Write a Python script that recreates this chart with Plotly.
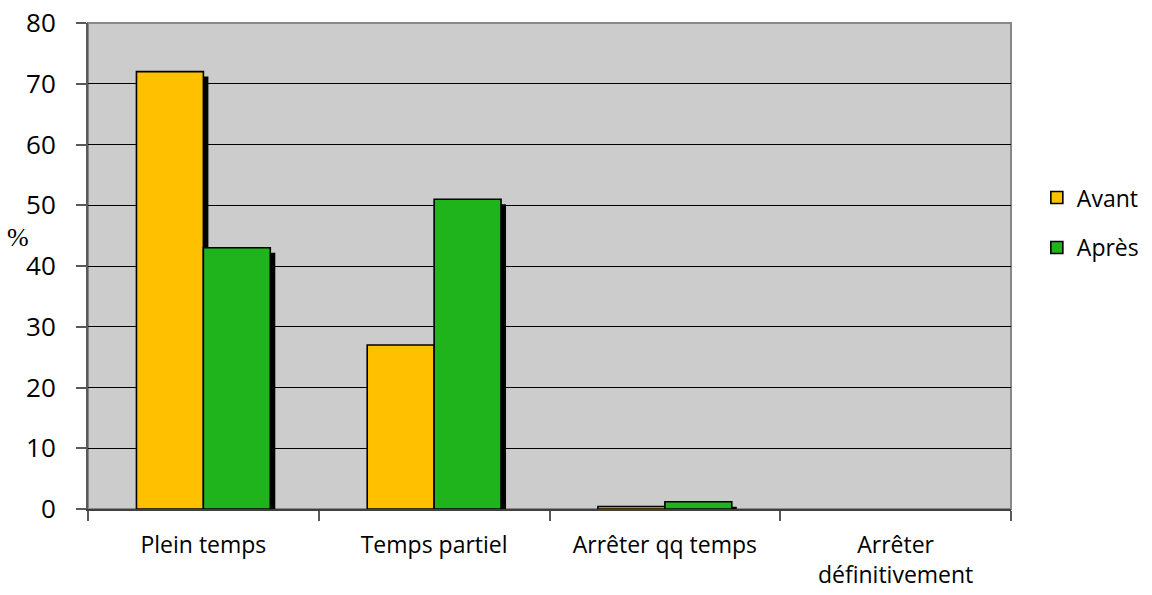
import plotly.graph_objects as go

# ---- data ----
categories = ["Plein temps", "Temps partiel", "Arrêter qq temps", "Arrêter<br>définitivement"]
avant = [72, 27, 0.4, 0]
apres = [43, 51, 1.2, 0]
series_names = ["Avant", "Après"]
y_ticks = [0, 10, 20, 30, 40, 50, 60, 70, 80]

# ---- style ----
W, H = 1152, 595
ML, MR, MT, MB = 88, 141, 23, 86
PW, PH = W - ML - MR, H - MT - MB
COL_AVANT = "#FFC000"
COL_APRES = "#20B41C"
FONT = "Open Sans"

# shadow offsets (pixels) converted into axis-range shifts
SH_PX = 5
x_shift = SH_PX * (len(categories)) / PW
y_shift = SH_PX * (y_ticks[-1] - y_ticks[0]) / PH


def drawn(vals):
    # zero-height bars are not drawn at all in the reference
    return [v if v else None for v in vals]


fig = go.Figure()

# shadow bars (drawn first, on base axes)
for vals in (avant, apres):
    fig.add_trace(go.Bar(
        x=categories, y=drawn(vals), xaxis="x", yaxis="y",
        marker=dict(color="black", line=dict(width=0)),
        showlegend=False, hoverinfo="skip",
    ))

# main bars (overlay axes, drawn on top)
for name, vals, col in ((series_names[0], avant, COL_AVANT), (series_names[1], apres, COL_APRES)):
    fig.add_trace(go.Bar(
        x=categories, y=drawn(vals), name=name, xaxis="x2", yaxis="y2",
        marker=dict(color=col, line=dict(color="black", width=1.6)),
        legendgroup=name,
    ))

fig.update_layout(
    width=W, height=H,
    margin=dict(l=ML, r=MR, t=MT, b=MB, pad=0, autoexpand=False),
    paper_bgcolor="white",
    plot_bgcolor="#CCCCCC",
    barmode="group",
    bargap=0.42,
    bargroupgap=0,
    font=dict(family=FONT, color="black"),
    xaxis=dict(
        type="category", range=[-0.5 - x_shift, len(categories) - 0.5 - x_shift],
        visible=False, showgrid=False, automargin=False,
    ),
    yaxis=dict(
        range=[y_ticks[0] + y_shift, y_ticks[-1] + y_shift],
        visible=False, showgrid=False, zeroline=False, automargin=False,
    ),
    xaxis2=dict(
        type="category", overlaying="x", side="bottom",
        range=[-0.5, len(categories) - 0.5],
        tickson="boundaries", ticks="outside", ticklen=10, tickwidth=1.5,
        tickcolor="#595959",
        showline=True, linecolor="#404040", linewidth=2,
        showgrid=False, automargin=False,
        tickfont=dict(family=FONT, size=23, color="black"),
        ticklabelstandoff=14,
    ),
    yaxis2=dict(
        overlaying="y", side="left",
        range=[y_ticks[0], y_ticks[-1]],
        tickvals=y_ticks, ticks="outside", ticklen=10, tickwidth=1.5,
        tickcolor="#595959",
        showline=True, linecolor="#595959", linewidth=2,
        showgrid=True, gridcolor="black", gridwidth=1,
        zeroline=False, automargin=False,
        tickfont=dict(family=FONT, size=26, color="black"),
        ticklabelstandoff=15,
    ),
    legend=dict(
        x=1.028, xanchor="left", y=0.685, yanchor="top",
        font=dict(family=FONT, size=23, color="black"),
        tracegroupgap=17, bgcolor="rgba(0,0,0,0)",
        itemclick=False,
    ),
    shapes=[dict(
        type="rect", xref="paper", yref="paper", x0=0, x1=1, y0=0, y1=1,
        line=dict(color="#888888", width=2), layer="below",
    )],
    annotations=[dict(
        text="%", xref="paper", yref="paper",
        x=(17.5 - ML) / PW, y=(H - MB - 237) / PH,
        xanchor="center", yanchor="middle", showarrow=False,
        font=dict(family="Liberation Serif", size=26, color="black"),
    )],
)

fig.write_html("out.html")
